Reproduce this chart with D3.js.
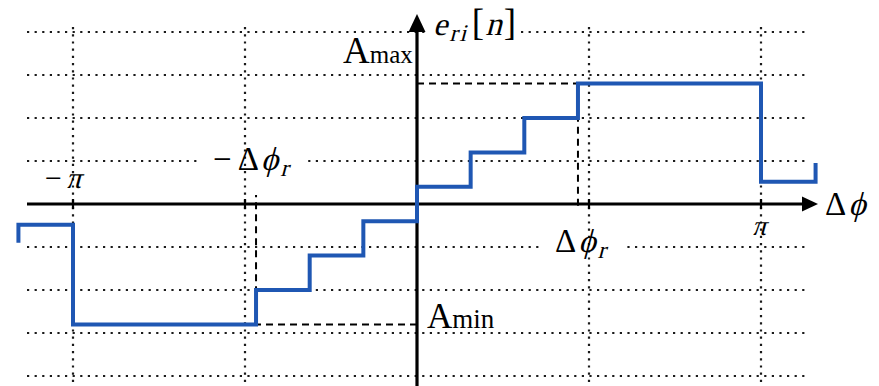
<!DOCTYPE html>
<html><head><meta charset="utf-8">
<script src="https://cdn.jsdelivr.net/npm/d3@7"></script>
<style>
body{margin:0;background:#fff}
svg{display:block}
</style>
</head><body>
<svg id="chart" width="879" height="386"></svg>
<script>
const PI = Math.PI;

// Grid positions: phase grid at multiples of π/2, level grid every 1.25 quantisation steps
const xGridValues = [-PI, -PI / 2, 0, PI / 2, PI];
const yGridValues = [-5, -3.75, -2.5, -1.25, 0, 1.25, 2.5, 3.75, 5];
const xTickValues = [-PI, -PI / 2, PI / 2, PI];

// Quantised phase-error characteristic e_ri[n] versus Δφ
const deltaPhiR = 1.47;
const stepEdges  = [-3.64, -PI, -1.47, -0.98, -0.49, 0, 0.49, 0.98, 1.47, PI, 3.64];
const stepLevels = [-0.6, -3.5, -2.5, -1.5, -0.5, 0.5, 1.5, 2.5, 3.5, 0.65];
const stubStart = -1.13;
const stubEnd = 1.19;
const aMax = 3.5;
const aMin = -3.5;

const FONT = "Liberation Serif";
const svg = d3.select("#chart");
const H = 386;

const x = d3.scaleLinear().domain([-PI, PI]).range([73, 761]);
const y = d3.scaleLinear().domain([-5, 5]).range([376, 32]);

const gridLeft = 27, gridRight = 807, gridTop = 27;
const axisLeft = 27, axisTip = 818, yAxisTip = 14;

const gHGrid = svg.append("g");
const gBg = svg.append("g");
const gVGrid = svg.append("g");
const gDash = svg.append("g");
const gAxes = svg.append("g");
const gLine = svg.append("g");
const gLabels = svg.append("g");

// horizontal dotted grid (the zero line is covered by the axis)
gHGrid.selectAll("line").data(yGridValues.filter(v => v !== 0)).join("line")
  .attr("x1", gridLeft).attr("x2", gridRight)
  .attr("y1", d => y(d)).attr("y2", d => y(d))
  .attr("stroke", "#1a1a1a").attr("stroke-width", 2.2)
  .attr("stroke-dasharray", "2.2 5.4");

// vertical dotted grid (the zero line is covered by the axis)
gVGrid.selectAll("line").data(xGridValues.filter(v => v !== 0)).join("line")
  .attr("x1", d => x(d)).attr("x2", d => x(d))
  .attr("y1", gridTop).attr("y2", H)
  .attr("stroke", "#1a1a1a").attr("stroke-width", 2.2)
  .attr("stroke-dasharray", "2.2 5");

// dashed guides to A_max at Δφ_r and A_min at -Δφ_r
const dashStyle = sel => sel.attr("fill", "none").attr("stroke", "#000")
  .attr("stroke-width", 2).attr("stroke-dasharray", "7 5");
gDash.append("path").call(dashStyle)
  .attr("d", `M${x(0)},${y(aMax)}H${x(deltaPhiR)}V${y(-0.18)}`);
gDash.append("path").call(dashStyle)
  .attr("d", `M${x(0)},${y(aMin)}H${x(-deltaPhiR)}V${y(0.26)}`);

// axes with arrowheads
gAxes.append("line")
  .attr("x1", axisLeft).attr("x2", axisTip - 12)
  .attr("y1", y(0)).attr("y2", y(0))
  .attr("stroke", "#000").attr("stroke-width", 3);
gAxes.append("path")
  .attr("d", `M${axisTip},${y(0)}L${axisTip - 16},${y(0) - 7.5}L${axisTip - 16},${y(0) + 7.5}Z`)
  .attr("fill", "#000");
gAxes.append("line")
  .attr("x1", x(0)).attr("x2", x(0))
  .attr("y1", H).attr("y2", yAxisTip + 12)
  .attr("stroke", "#000").attr("stroke-width", 3.2);
gAxes.append("path")
  .attr("d", `M${x(0)},${yAxisTip}L${x(0) - 8.5},${yAxisTip + 18}L${x(0) + 8.5},${yAxisTip + 18}Z`)
  .attr("fill", "#000");
gAxes.selectAll("line.tick").data(xTickValues).join("line")
  .attr("class", "tick")
  .attr("x1", d => x(d)).attr("x2", d => x(d))
  .attr("y1", y(0) - 5).attr("y2", y(0) + 5)
  .attr("stroke", "#000").attr("stroke-width", 2.2);

// stair-step characteristic
const pts = [[stepEdges[0], stubStart]];
stepLevels.forEach((lv, i) => {
  pts.push([stepEdges[i], lv]);
  pts.push([stepEdges[i + 1], lv]);
});
pts.push([stepEdges[stepEdges.length - 1], stubEnd]);
gLine.append("path")
  .attr("d", d3.line().x(d => x(d[0])).y(d => y(d[1]))(pts))
  .attr("fill", "none").attr("stroke", "#1f57b3")
  .attr("stroke-width", 4).attr("stroke-linejoin", "miter");

// math-style labels: pieces laid out left to right, italic pieces slanted
function mathLabel(x0, baseline, parts, bgPad) {
  const g = gLabels.append("g");
  let cx = x0;
  parts.forEach(p => {
    cx += p.dx || 0;
    const by = baseline + (p.dy || 0);
    const t = g.append("text")
      .attr("font-family", FONT).attr("font-size", p.size)
      .attr("fill", "#000").text(p.t);
    if (p.ls) t.attr("letter-spacing", p.ls);
    if (p.italic) {
      t.attr("transform", `translate(${cx},${by}) skewX(-15)`);
    } else {
      t.attr("x", cx).attr("y", by);
    }
    cx += t.node().getComputedTextLength() + (p.italic ? 1 : 0);
  });
  if (bgPad) {
    const b = g.node().getBBox();
    gBg.append("rect")
      .attr("x", b.x - bgPad).attr("y", b.y + 3)
      .attr("width", b.width + 2 * bgPad).attr("height", b.height - 6)
      .attr("fill", "#fff");
  }
  return g;
}

mathLabel(433, 35, [
  { t: "e", size: 32, italic: true },
  { t: "ri", size: 24, italic: true, dy: 6, dx: 1, ls: 2 },
  { t: "[", size: 37, dx: 3 },
  { t: "n", size: 33, italic: true, dx: 1 },
  { t: "]", size: 37, dx: 1 }
], 4);
mathLabel(343, 63, [{ t: "A", size: 37 }, { t: "max", size: 25 }]);
mathLabel(427, 328, [{ t: "A", size: 35 }, { t: "min", size: 27 }]);
mathLabel(45, 188, [{ t: "−", size: 30 }, { t: "π", size: 30, italic: true, dx: 4 }]);
mathLabel(213, 170, [
  { t: "−", size: 33 }, { t: "Δ", size: 33, dx: 6 },
  { t: "ϕ", size: 33, italic: true, dx: 2 },
  { t: "r", size: 24, italic: true, dy: 6, dx: 1 }
], 14);
mathLabel(555, 252, [
  { t: "Δ", size: 33 }, { t: "ϕ", size: 33, italic: true, dx: 2 },
  { t: "r", size: 24, italic: true, dy: 6, dx: 1 }
], 14);
mathLabel(752, 235, [{ t: "π", size: 28, italic: true }]);
mathLabel(825, 215, [{ t: "Δ", size: 33 }, { t: "ϕ", size: 33, italic: true, dx: 2 }]);
</script>
</body></html>
